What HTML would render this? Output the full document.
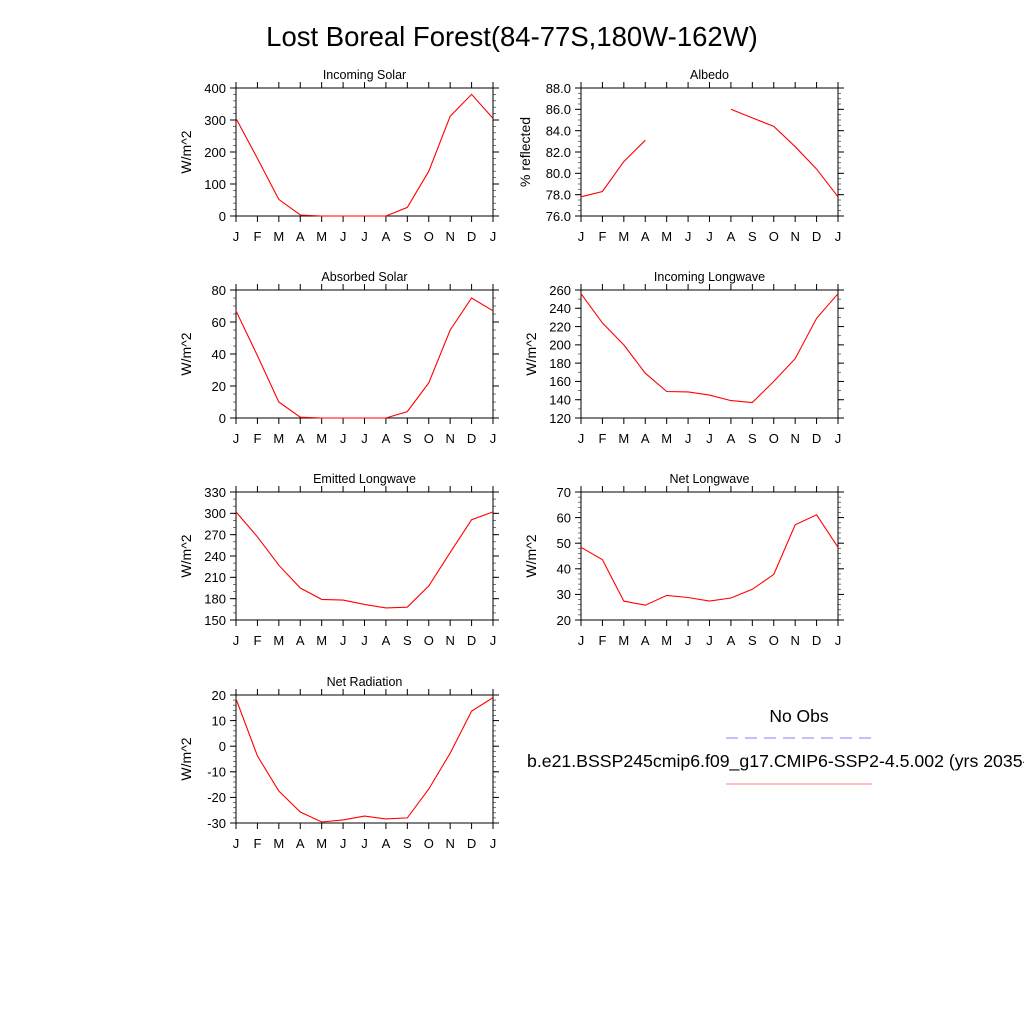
<!DOCTYPE html>
<html><head><meta charset="utf-8"><style>
body{margin:0;background:#fff;}
svg{display:block;font-family:"Liberation Sans",sans-serif;}
</style></head><body>
<svg id="s" width="1024" height="1024" viewBox="0 0 1024 1024">
<rect width="1024" height="1024" fill="#fff"/>
<text x="512" y="46" font-size="27.5" text-anchor="middle">Lost Boreal Forest(84-77S,180W-162W)</text>
<g>
<text x="799" y="722" font-size="17.5" text-anchor="middle">No Obs</text>
<line x1="726" y1="738" x2="872" y2="738" stroke="#8080ff" stroke-width="1" stroke-dasharray="12,7"/>
<text x="527" y="767" font-size="17.7">b.e21.BSSP245cmip6.f09_g17.CMIP6-SSP2-4.5.002 (yrs 2035-2054)</text>
<line x1="726" y1="784" x2="872" y2="784" stroke="#ff8080" stroke-width="1"/>
</g>
</svg>
<script>
const months=["J","F","M","A","M","J","J","A","S","O","N","D","J"];
const incomingSolar=[305,180,52,3,0,0,0,0,27,140,312,380,305];
const albedo=[77.8,78.3,81.1,83.1,null,null,null,86.0,85.2,84.4,82.5,80.4,77.8];
const absorbedSolar=[67,39,10,0.5,0,0,0,0,4,22,55,75,67];
const incomingLW=[256,224,200,169,149,148.5,145,139,137,160,185,229,256];
const emittedLW=[302,267,227,195,179,178,172,167,168,198,245,291,302];
const netLW=[48.4,43.6,27.4,25.8,29.6,28.8,27.4,28.6,32,37.8,57.2,61.1,48.4];
const netRad=[18.5,-3.8,-17.5,-25.7,-29.6,-28.8,-27.3,-28.4,-28,-16.7,-2.7,13.7,19];
const ticksSolar=[0,100,200,300,400];
const ticksAlbedo=[76,78,80,82,84,86,88];
const ticksAbs=[0,20,40,60,80];
const ticksILW=[120,140,160,180,200,220,240,260];
const ticksELW=[150,180,210,240,270,300,330];
const ticksNLW=[20,30,40,50,60,70];
const ticksNR=[-30,-20,-10,0,10,20];

const NS="http://www.w3.org/2000/svg";
const svg=document.getElementById('s');
function mk(tag,attrs,parent){const e=document.createElementNS(NS,tag);for(const k in attrs)e.setAttribute(k,attrs[k]);parent.appendChild(e);return e;}

function panel(name,title,ytitle,x0,y0,data,ticks,minor,dec){
  const w=257,h=128,x1=x0+w,y1=y0+h;
  const lo=ticks[0],hi=ticks[ticks.length-1];
  const xs=i=>x0+i*w/12;
  const ys=v=>y1-(v-lo)/(hi-lo)*h;
  const g=mk('g',{},svg);
  
  
  const t=mk('text',{x:x0+w/2,y:y0-9,'font-size':12.5,'text-anchor':'middle'},g);t.textContent=title;
  
  
  const yt=mk('text',{x:0,y:0,'font-size':14,'text-anchor':'middle',transform:`translate(${x0-(dec?51:45)},${y0+h/2}) rotate(-90)`},g);yt.textContent=ytitle;
  
  
  for(let v=lo;v<=hi+1e-9;v+=minor){const y=ys(v);
    mk('line',{x1:x0-3,x2:x0,y1:y,y2:y,stroke:'#555','stroke-width':0.8},g);
    mk('line',{x1:x1,x2:x1+3,y1:y,y2:y,stroke:'#555','stroke-width':0.8},g);}
  ticks.forEach(v=>{const y=ys(v);
    mk('line',{x1:x0-6,x2:x0,y1:y,y2:y,stroke:'#000'},g);
    mk('line',{x1:x1,x2:x1+6,y1:y,y2:y,stroke:'#000'},g);
    const l=mk('text',{x:x0-10,y:y+4.8,'font-size':13,'text-anchor':'end'},g);
    l.textContent=dec?v.toFixed(1):String(v);
    
    });
  months.forEach((m,i)=>{const x=xs(i);
    mk('line',{x1:x,x2:x,y1:y1,y2:y1+6,stroke:'#000'},g);
    mk('line',{x1:x,x2:x,y1:y0-6,y2:y0,stroke:'#000'},g);
    const l=mk('text',{x:x,y:y1+25,'font-size':13,'text-anchor':'middle'},g);l.textContent=m;
    
    });
  const r=mk('rect',{x:x0,y:y0,width:w,height:h,fill:'none',stroke:'#000','stroke-width':1},g);
  
  
  let d='',pen=false;
  data.forEach((v,i)=>{if(v===null){pen=false;return;}d+=(pen?'L':'M')+xs(i).toFixed(1)+','+ys(v).toFixed(1);pen=true;});
  const p=mk('path',{d:d,fill:'none',stroke:'#ff0000','stroke-width':1.1},g);
  
  
}
panel('incoming-solar','Incoming Solar','W/m^2',236,88,incomingSolar,ticksSolar,20,false);
panel('albedo','Albedo','% reflected',581,88,albedo,ticksAlbedo,0.5,true);
panel('absorbed-solar','Absorbed Solar','W/m^2',236,290,absorbedSolar,ticksAbs,5,false);
panel('incoming-longwave','Incoming Longwave','W/m^2',581,290,incomingLW,ticksILW,10,false);
panel('emitted-longwave','Emitted Longwave','W/m^2',236,492,emittedLW,ticksELW,10,false);
panel('net-longwave','Net Longwave','W/m^2',581,492,netLW,ticksNLW,2,false);
panel('net-radiation','Net Radiation','W/m^2',236,695,netRad,ticksNR,2,false);
</script>
</body></html>
